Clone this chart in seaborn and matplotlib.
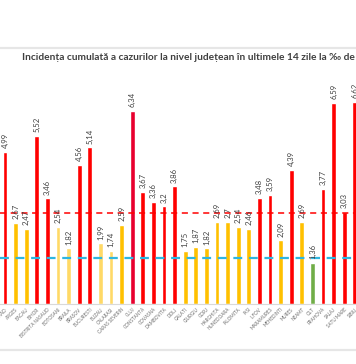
import matplotlib
matplotlib.use('Agg')
import matplotlib.pyplot as plt
from matplotlib.lines import Line2D
import seaborn as sns
import pandas as pd

# date: incidenta pe judete (ALBA taiat din imagine)
judete = ['ARAD', 'ARGES', 'BACAU', 'BIHOR', 'BISTRITA NASAUD', 'BOTOSANI', 'BRAILA',
          'BRASOV', 'BUCURESTI', 'BUZAU', 'CALARASI', 'CARAS SEVERIN', 'CLUJ', 'CONSTANTA',
          'COVASNA', 'DAMBOVITA', 'DOLJ', 'GALATI', 'GIURGIU', 'GORJ', 'HARGHITA',
          'HUNEDOARA', 'IALOMITA', 'IASI', 'ILFOV', 'MARAMURES', 'MEHEDINTI', 'MURES',
          'NEAMT', 'OLT', 'PRAHOVA', 'SALAJ', 'SATU MARE', 'SIBIU']
incidenta = [4.99, 2.67, 2.47, 5.52, 3.46, 2.54, 1.82, 4.56, 5.14, 1.99, 1.74, 2.59,
             6.34, 3.67, 3.36, 3.2, 3.86, 1.75, 1.87, 1.82, 2.69, 2.7, 2.54, 2.46,
             3.48, 3.59, 2.09, 4.39, 2.69, 1.36, 3.77, 6.59, 3.03, 6.62]
culori = ['r', 'g', 'g', 'r', 'r', 'p', 'p', 'r', 'r', 'p', 'p', 'g', 'c', 'r', 'r', 'r',
          'r', 'g', 'g', 'g', 'g', 'g', 'g', 'g', 'r', 'r', 'g', 'r', 'g', 'v', 'r', 'r',
          'r', 'r']
prag_rosu = 3.0
prag_albastru = 1.5
titlu = 'Incidența cumulată a cazurilor la nivel județean în ultimele 14 zile la ‰ de locuitori'

cod_culori = {'r': '#FF0000', 'g': '#FFC000', 'p': '#FFD966', 'c': '#E8002E', 'v': '#70AD47'}
df = pd.DataFrame({'judet': judete, 'val': incidenta})
palette = {j: cod_culori[c] for j, c in zip(judete, culori)}

sns.set_style('white')
plt.rcParams['font.family'] = ['Lato', 'DejaVu Sans']

fig = plt.figure(figsize=(3.56, 3.64), dpi=100)
ax = fig.add_axes([0, 60 / 364, 1, 234 / 364])

sns.barplot(data=df, x='judet', y='val', hue='judet', palette=palette, legend=False,
            width=0.45, ax=ax, saturation=1)

ax.axhline(prag_rosu, color='#FF0000', lw=1.1, ls=(0, (4, 3)), zorder=3)
ax.axhline(prag_albastru, color='#2EB6E0', lw=1.6, ls=(0, (4, 3)), zorder=3)

for i, v in enumerate(incidenta):
    ax.text(i, v + 0.12, str(v).replace('.', ','), rotation=90, ha='center', va='bottom',
            fontsize=5.6, color='#404040')

ax.set_xlim(-5 / 10.6, (356 - 5) / 10.6)
ax.set_ylim(0, 234 / 30.5)
ax.set_xlabel('')
ax.set_ylabel('')
ax.set_yticks([])
ax.set_xticks(range(len(judete)))
ax.set_xticklabels(judete, rotation=45, ha='right', rotation_mode='anchor',
                   fontsize=3.3, color='#6E6E6E')
ax.tick_params(axis='x', length=0, pad=2)
for s in ['top', 'left', 'right']:
    ax.spines[s].set_visible(False)
ax.spines['bottom'].set_color('#D9D9D9')
ax.spines['bottom'].set_linewidth(0.8)

fig.text(22 / 356, 1 - 58 / 364, titlu, ha='left', va='center', fontsize=7.3,
         fontweight='bold', color='#404040')

fig.add_artist(Line2D([0, 1], [1 - 48 / 364] * 2, color='#E6E6E6', lw=1.6))
fig.add_artist(Line2D([0, 1], [1 - 350 / 364] * 2, color='#E6E6E6', lw=1.6))

fig.savefig('out.png', dpi=100)
